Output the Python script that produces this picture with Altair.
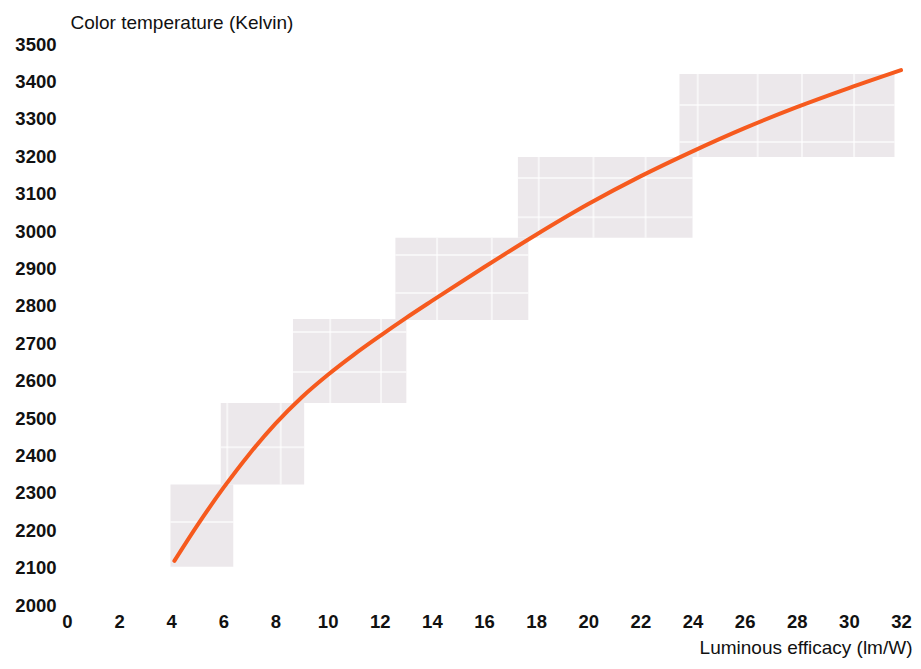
import altair as alt
import pandas as pd

# Curve
curve_x = [4.12, 5, 6, 7, 8, 9, 10, 11, 12, 13, 14, 16, 18, 20, 22, 24, 26, 28, 30, 32]
curve_y = [2118, 2213, 2313, 2404, 2485, 2555, 2615, 2669, 2719, 2767, 2813, 2903, 2990, 3072, 3146, 3213, 3275, 3331, 3382, 3430]

# Shaded boxes
box_x1 = [3.97, 5.9, 8.67, 12.6, 17.3, 23.5]
box_x2 = [6.38, 9.1, 13.02, 17.7, 24.0, 31.75]
box_y1 = [2102, 2322, 2540, 2762, 2982, 3198]
box_y2 = [2322, 2540, 2765, 2982, 3198, 3420]

# Faint white lines inside the boxes
vline_x = [6.15, 8.2, 10.1, 12.05, 14.2, 16.3, 18.1, 20.2, 22.2, 24.2, 26.5, 28.2, 30.2]
vline_y1 = [2322, 2322, 2540, 2540, 2762, 2762, 2982, 2982, 2982, 3198, 3198, 3198, 3198]
vline_y2 = [2540, 2540, 2765, 2765, 2982, 2982, 3198, 3198, 3198, 3420, 3420, 3420, 3420]
hline_y = [2222, 2422, 2730, 2623, 2936, 2834, 3142, 3037, 3337, 3238]
hline_x1 = [3.97, 5.9, 8.67, 8.67, 12.6, 12.6, 17.3, 17.3, 23.5, 23.5]
hline_x2 = [6.38, 9.1, 13.02, 13.02, 17.7, 17.7, 24.0, 24.0, 31.75, 31.75]

x_ticks = list(range(0, 33, 2))
y_ticks = list(range(2000, 3501, 100))

curve = pd.DataFrame({"x": curve_x, "y": curve_y})
boxes = pd.DataFrame({"x1": box_x1, "x2": box_x2, "y1": box_y1, "y2": box_y2})
vlines = pd.DataFrame({"x": vline_x, "y1": vline_y1, "y2": vline_y2})
hlines = pd.DataFrame({"y": hline_y, "x1": hline_x1, "x2": hline_x2})

FONT = "Liberation Sans"

xscale = alt.Scale(domain=[0, 32], nice=False, zero=False)
yscale = alt.Scale(domain=[2000, 3500], nice=False, zero=False)

xaxis = alt.Axis(
    values=x_ticks, format="d", grid=False, domain=False, ticks=False,
    labelOverlap=False, labelFlush=False,
    labelFont=FONT, labelFontSize=18.5, labelFontWeight="bold", labelColor="#111",
    labelPadding=7,
    title="Luminous efficacy (lm/W)", titleFont=FONT, titleFontSize=19,
    titleFontWeight="normal", titleColor="#111", titleAlign="right",
    titleBaseline="middle", titleX=845, titleY=42,
)
yaxis = alt.Axis(
    values=y_ticks, format="d", grid=False, domain=False, ticks=False,
    labelOverlap=False, labelFlush=False,
    labelFont=FONT, labelFontSize=18.5, labelFontWeight="bold", labelColor="#111",
    labelPadding=11,
    title="Color temperature (Kelvin)", titleFont=FONT, titleFontSize=19,
    titleFontWeight="normal", titleColor="#111", titleAngle=0, titleAlign="left",
    titleBaseline="middle", titleX=3, titleY=-22,
)

rects = alt.Chart(boxes).mark_rect(color="#ece8eb").encode(
    x=alt.X("x1:Q", scale=xscale, axis=xaxis),
    x2="x2:Q",
    y=alt.Y("y1:Q", scale=yscale, axis=yaxis),
    y2="y2:Q",
)

vl = alt.Chart(vlines).mark_rule(color="white", strokeWidth=2, opacity=0.6).encode(
    x=alt.X("x:Q", scale=xscale, axis=xaxis),
    y=alt.Y("y1:Q", scale=yscale, axis=yaxis),
    y2="y2:Q",
)
hl = alt.Chart(hlines).mark_rule(color="white", strokeWidth=2, opacity=0.6).encode(
    y=alt.Y("y:Q", scale=yscale, axis=yaxis),
    x=alt.X("x1:Q", scale=xscale, axis=xaxis),
    x2="x2:Q",
)

line = alt.Chart(curve).mark_line(
    color="#f65a1e", strokeWidth=4, interpolate="monotone", strokeCap="round"
).encode(
    x=alt.X("x:Q", scale=xscale, axis=xaxis),
    y=alt.Y("y:Q", scale=yscale, axis=yaxis),
)

chart = alt.layer(rects, vl, hl, line).properties(
    width=834, height=561,
    autosize=alt.AutoSizeParams(type="none"),
    padding={"left": 59, "top": 36, "right": 12, "bottom": 56},
).configure_view(stroke=None).configure_axis(labelOverlap=False)

chart.save("out.html", embed_options={"renderer": "svg", "actions": False})
